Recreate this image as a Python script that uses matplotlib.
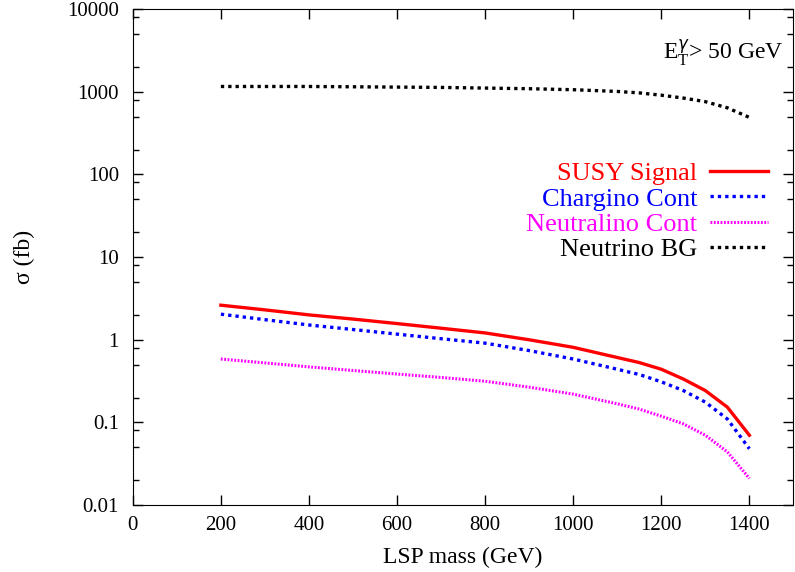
import matplotlib
matplotlib.use('Agg')
import matplotlib.pyplot as plt
from matplotlib.ticker import LogLocator, NullFormatter

plt.rcParams['font.family'] = ['Liberation Serif', 'DejaVu Serif']
plt.rcParams['mathtext.fontset'] = 'custom'
plt.rcParams['mathtext.rm'] = 'Liberation Serif'

# LSP mass (GeV)
mass = [200, 300, 400, 500, 600, 700, 800, 900, 1000, 1100, 1150, 1200, 1250, 1300, 1350, 1400]

# cross sections (fb)
susy = [2.62, 2.3, 2.0, 1.78, 1.57, 1.38, 1.21, 1.0, 0.81, 0.61, 0.53, 0.44, 0.335, 0.243, 0.153, 0.07]
chargino = [2.04, 1.75, 1.51, 1.33, 1.17, 1.03, 0.91, 0.74, 0.585, 0.44, 0.38, 0.31, 0.243, 0.176, 0.11, 0.048]
neutralino = [0.585, 0.525, 0.47, 0.425, 0.385, 0.35, 0.315, 0.267, 0.22, 0.168, 0.145, 0.119, 0.096, 0.07, 0.044, 0.021]
neutrino = [1160, 1160, 1160, 1150, 1140, 1130, 1110, 1090, 1060, 1010, 970, 910, 840, 760, 640, 490]

fig = plt.figure(figsize=(7.95, 5.72), dpi=100)
ax = fig.add_axes([0.167, 0.117, 0.831, 0.867])

ax.plot(mass, susy, color='red', lw=2.4, label='SUSY Signal')
ax.plot(mass, chargino, color='blue', lw=2.4, linestyle=(0, (1, 1.2)), label='Chargino Cont')
ax.plot(mass, neutralino, color='magenta', lw=2.2, linestyle=(0, (0.6, 0.5)), label='Neutralino Cont')
ax.plot(mass, neutrino, color='black', lw=2.4, linestyle=(0, (1, 1.2)), label='Neutrino BG')

ax.set_yscale('log')
ax.set_xlim(0, 1500)
ax.set_ylim(0.01, 10000)
ax.set_xticks([0, 200, 400, 600, 800, 1000, 1200, 1400])
ax.set_yticks([0.01, 0.1, 1, 10, 100, 1000, 10000])
ax.set_yticklabels(['0.01', '0.1', '1', '10', '100', '1000', '10000'])
ax.yaxis.set_minor_locator(LogLocator(base=10, subs=(2, 5, 8)))
ax.yaxis.set_minor_formatter(NullFormatter())
ax.tick_params(which='both', direction='in', top=True, right=True, labelsize=15)
ax.tick_params(which='major', length=7, width=1)
ax.tick_params(which='minor', length=4, width=1)
ax.tick_params(axis='x', pad=8)
ax.tick_params(axis='y', pad=10)

ax.set_xlabel('LSP mass (GeV)', fontsize=17)
ax.set_ylabel('σ (fb)', fontsize=17)
ax.xaxis.set_label_coords(0.5, -0.085)
ax.yaxis.set_label_coords(-0.148, 0.5)

ax.text(0.985, 0.91, r'E$_\mathrm{T}^\gamma$> 50 GeV', transform=ax.transAxes,
        ha='right', va='center', fontsize=17)

ax.legend(loc='upper right', bbox_to_anchor=(0.962, 0.692), frameon=False, markerfirst=False,
          labelcolor=['red', 'blue', 'magenta', 'black'], fontsize=19, handlelength=2.2,
          handletextpad=0.5, labelspacing=0.065, borderpad=0, borderaxespad=0)

fig.savefig('out.png', dpi=100)
